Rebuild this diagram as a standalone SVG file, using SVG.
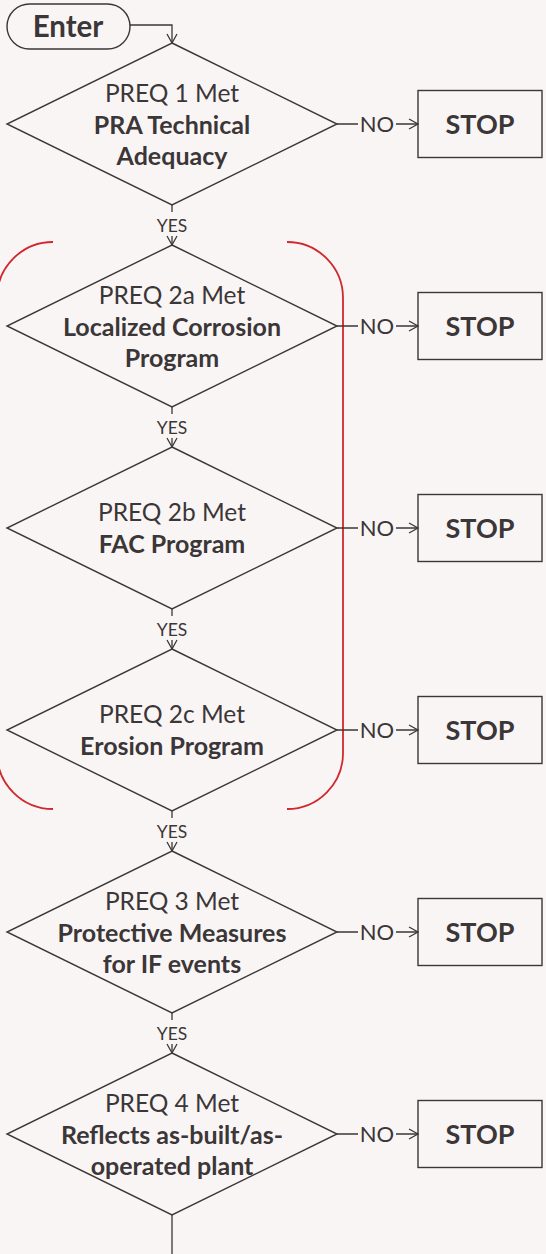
<svg xmlns="http://www.w3.org/2000/svg" width="546" height="1254" viewBox="0 0 546 1254">
<defs>
<marker id="arr" markerWidth="12" markerHeight="12" refX="10" refY="6" orient="auto" markerUnits="userSpaceOnUse">
<path d="M1,1 L10,6 L1,11" fill="none" stroke="#3b3637" stroke-width="1.3"/>
</marker>
<style>
.bg{fill:#faf5f5}
.shape{fill:none;stroke:#3b3637;stroke-width:1.4}
.line{fill:none;stroke:#3b3637;stroke-width:1.3}
.red{fill:none;stroke:#d0282e;stroke-width:1.8}
text{font-family:Lato,"Open Sans","Liberation Sans",sans-serif;fill:#3b3637}
.t{font-size:24.5px;text-anchor:middle}
.b{font-size:25px;font-weight:bold;text-anchor:middle}
.lbl{font-size:17.5px;text-anchor:middle}
.no{font-size:22px;text-anchor:middle}
.big{font-size:27px;font-weight:bold;text-anchor:middle}
.ent{font-size:29.5px;font-weight:bold;text-anchor:middle}
</style>
</defs>
<rect class="bg" x="0" y="0" width="546" height="1254"/>

<g id="brackets">
<path class="red" d="M53,242 A56,56 0 0 0 -3,298 L-3,753 A56,56 0 0 0 53,809"/>
<path class="red" d="M287,242 A56,56 0 0 1 343,298 L343,753 A56,56 0 0 1 287,809"/>
</g>

<g id="connectors">
<path class="line" d="M130,25 H172 V43" marker-end="url(#arr)"/>
<path class="line" d="M172,205 V212"/>
<path class="line" d="M172,236 V245" marker-end="url(#arr)"/>
<path class="line" d="M172,407 V414"/>
<path class="line" d="M172,438 V447" marker-end="url(#arr)"/>
<path class="line" d="M172,609 V616"/>
<path class="line" d="M172,640 V649" marker-end="url(#arr)"/>
<path class="line" d="M172,811 V818"/>
<path class="line" d="M172,842 V851" marker-end="url(#arr)"/>
<path class="line" d="M172,1013 V1020"/>
<path class="line" d="M172,1044 V1053" marker-end="url(#arr)"/>
<path class="line" d="M172,1215 V1254"/>
<path class="line" d="M337,124 H358 M396,124 H418" marker-end="url(#arr)"/>
<path class="line" d="M337,326 H358 M396,326 H418" marker-end="url(#arr)"/>
<path class="line" d="M337,528 H358 M396,528 H418" marker-end="url(#arr)"/>
<path class="line" d="M337,730 H358 M396,730 H418" marker-end="url(#arr)"/>
<path class="line" d="M337,932 H358 M396,932 H418" marker-end="url(#arr)"/>
<path class="line" d="M337,1134 H358 M396,1134 H418" marker-end="url(#arr)"/>
<text class="lbl" x="172" y="232">YES</text>
<text class="lbl" x="172" y="434">YES</text>
<text class="lbl" x="172" y="636">YES</text>
<text class="lbl" x="172" y="838">YES</text>
<text class="lbl" x="172" y="1040">YES</text>
<text class="no" x="377" y="132">NO</text>
<text class="no" x="377" y="334">NO</text>
<text class="no" x="377" y="536">NO</text>
<text class="no" x="377" y="738">NO</text>
<text class="no" x="377" y="940">NO</text>
<text class="no" x="377" y="1142">NO</text>
</g>

<g id="enter">
<rect class="shape" x="7" y="4" width="123" height="45" rx="22.5"/>
<text class="ent" x="68" y="37">Enter</text>
</g>

<g id="preq1">
<path class="shape" d="M172,43 L337,124 L172,205 L7,124 Z"/>
<text class="t" x="172" y="102">PREQ 1 Met</text>
<text class="b" x="172" y="134">PRA Technical</text>
<text class="b" x="172" y="165">Adequacy</text>
</g>
<g id="stop1"><rect class="shape" x="418" y="90.5" width="124" height="67"/><text class="big" x="480" y="134">STOP</text></g>

<g id="preq2a">
<path class="shape" d="M172,245 L337,326 L172,407 L7,326 Z"/>
<text class="t" x="172" y="304">PREQ 2a Met</text>
<text class="b" x="172" y="336">Localized Corrosion</text>
<text class="b" x="172" y="367">Program</text>
</g>
<g id="stop2a"><rect class="shape" x="418" y="292.5" width="124" height="67"/><text class="big" x="480" y="336">STOP</text></g>

<g id="preq2b">
<path class="shape" d="M172,447 L337,528 L172,609 L7,528 Z"/>
<text class="t" x="172" y="521">PREQ 2b Met</text>
<text class="b" x="172" y="553">FAC Program</text>
</g>
<g id="stop2b"><rect class="shape" x="418" y="494.5" width="124" height="67"/><text class="big" x="480" y="538">STOP</text></g>

<g id="preq2c">
<path class="shape" d="M172,649 L337,730 L172,811 L7,730 Z"/>
<text class="t" x="172" y="723">PREQ 2c Met</text>
<text class="b" x="172" y="755">Erosion Program</text>
</g>
<g id="stop2c"><rect class="shape" x="418" y="696.5" width="124" height="67"/><text class="big" x="480" y="740">STOP</text></g>

<g id="preq3">
<path class="shape" d="M172,851 L337,932 L172,1013 L7,932 Z"/>
<text class="t" x="172" y="910">PREQ 3 Met</text>
<text class="b" x="172" y="942">Protective Measures</text>
<text class="b" x="172" y="973">for IF events</text>
</g>
<g id="stop3"><rect class="shape" x="418" y="898.5" width="124" height="67"/><text class="big" x="480" y="942">STOP</text></g>

<g id="preq4">
<path class="shape" d="M172,1053 L337,1134 L172,1215 L7,1134 Z"/>
<text class="t" x="172" y="1112">PREQ 4 Met</text>
<text class="b" x="172" y="1144">Reflects as-built/as-</text>
<text class="b" x="172" y="1175">operated plant</text>
</g>
<g id="stop4"><rect class="shape" x="418" y="1100.5" width="124" height="67"/><text class="big" x="480" y="1144">STOP</text></g>
</svg>
